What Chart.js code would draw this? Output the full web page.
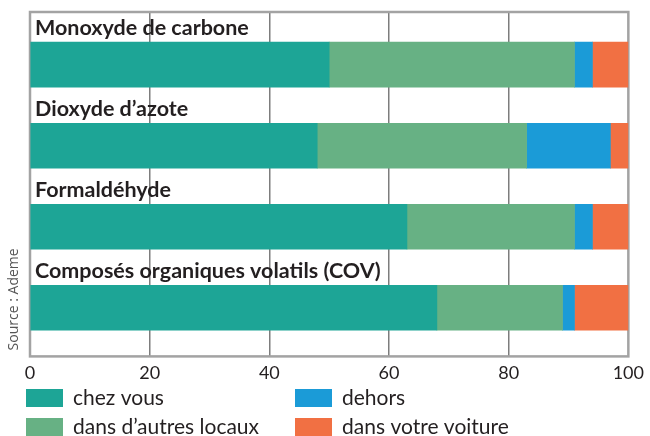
<!DOCTYPE html>
<html>
<head>
<meta charset="utf-8">
<script src="https://cdn.jsdelivr.net/npm/chart.js@4.4.1/dist/chart.umd.min.js"></script>
<style>
    html, body { margin: 0; padding: 0; background: #fff; }
    #wrap { width: 650px; height: 436px; }
</style>
</head>
<body>
<div id="wrap"><canvas id="chart" width="650" height="436"></canvas></div>
<script>
// Data (share of exposure, %)
const polluants = ['Monoxyde de carbone', 'Dioxyde d’azote', 'Formaldéhyde', 'Composés organiques volatils (COV)'];
const chezVous = [50, 48, 63, 68];
const autresLocaux = [41, 35, 28, 21];
const dehors = [3, 14, 3, 2];
const voiture = [6, 3, 6, 9];
const xTicks = [0, 20, 40, 60, 80, 100];
const seriesLabels = ['chez vous', 'dans d’autres locaux', 'dehors', 'dans votre voiture'];
const seriesColors = ['#1da596', '#67b184', '#1b9bd7', '#f17043'];
const sourceText = 'Source : Ademe';

const FONT = 'Lato, "Open Sans", sans-serif';

// bars sit on numeric positions 0..3 so the gap above each bar leaves room for its title
function toPoints(values) {
    return values.map((v, i) => ({ x: v, y: i }));
}

const seriesValues = [chezVous, autresLocaux, dehors, voiture];
const datasets = seriesValues.map((vals, k) => ({
    label: seriesLabels[k],
    data: toPoints(vals),
    backgroundColor: seriesColors[k],
    borderWidth: 0,
    barThickness: 45
}));

// titles above bars, frame, source, legend
const decorations = {
    id: 'decorations',
    beforeDatasetsDraw(chart) {
        const { ctx, chartArea: a } = chart;
        ctx.save();
        ctx.strokeStyle = '#a3a3a3';
        ctx.lineWidth = 2.5;
        ctx.strokeRect(a.left, a.top, a.right - a.left, a.bottom - a.top);
        ctx.restore();
    },
    afterDatasetsDraw(chart) {
        const { ctx } = chart;
        const yScale = chart.scales.y;
        const xScale = chart.scales.x;
        ctx.save();
        ctx.fillStyle = '#231f20';
        ctx.font = 'bold 21.5px ' + FONT;
        ctx.textBaseline = 'middle';
        ctx.textAlign = 'left';
        polluants.forEach((name, i) => {
            ctx.fillText(name, xScale.getPixelForValue(0) + 5, yScale.getPixelForValue(i) - 37);
        });
        ctx.restore();
    },
    afterDraw(chart) {
        const { ctx, chartArea: a } = chart;
        ctx.save();
        // source, rotated
        ctx.translate(14, a.bottom - 6);
        ctx.rotate(-Math.PI / 2);
        ctx.fillStyle = '#555';
        ctx.font = '14px "Open Sans", sans-serif';
        ctx.textBaseline = 'middle';
        ctx.textAlign = 'left';
        ctx.fillText(sourceText, 0, 0);
        ctx.restore();

        // legend in two columns
        const order = [0, 1, 2, 3];
        const cols = [26, 295];
        const rows = [398, 427];
        ctx.save();
        ctx.font = '21px ' + FONT;
        ctx.textBaseline = 'middle';
        ctx.textAlign = 'left';
        order.forEach((k, n) => {
            const x = cols[Math.floor(n / 2)];
            const y = rows[n % 2];
            ctx.fillStyle = seriesColors[k];
            ctx.fillRect(x, y - 9, 37, 18);
            ctx.fillStyle = '#231f20';
            ctx.fillText(seriesLabels[k], x + 47, y);
        });
        ctx.restore();
    }
};

new Chart(document.getElementById('chart'), {
    type: 'bar',
    data: { datasets },
    options: {
        indexAxis: 'y',
        responsive: false,
        animation: false,
        layout: { padding: { top: 12, left: 30, right: 4, bottom: 46 } },
        plugins: {
            legend: { display: false },
            tooltip: { enabled: false }
        },
        scales: {
            x: {
                type: 'linear',
                stacked: true,
                min: 0,
                max: 100,
                afterBuildTicks: (scale) => {
                    scale.ticks = xTicks.map(v => ({ value: v }));
                },
                border: { display: false },
                grid: {
                    drawTicks: false,
                    color: (c) => (c.tick && (c.tick.value === 0 || c.tick.value === 100)) ? 'rgba(0,0,0,0)' : '#7d7d7d',
                    lineWidth: 1.5
                },
                ticks: {
                    padding: 6,
                    color: '#231f20',
                    font: { family: FONT, size: 18 }
                }
            },
            y: {
                type: 'linear',
                stacked: true,
                reverse: true,
                offset: false,
                min: -0.65,
                max: 3.6,
                display: false
            }
        }
    },
    plugins: [decorations]
});
</script>
</body>
</html>
